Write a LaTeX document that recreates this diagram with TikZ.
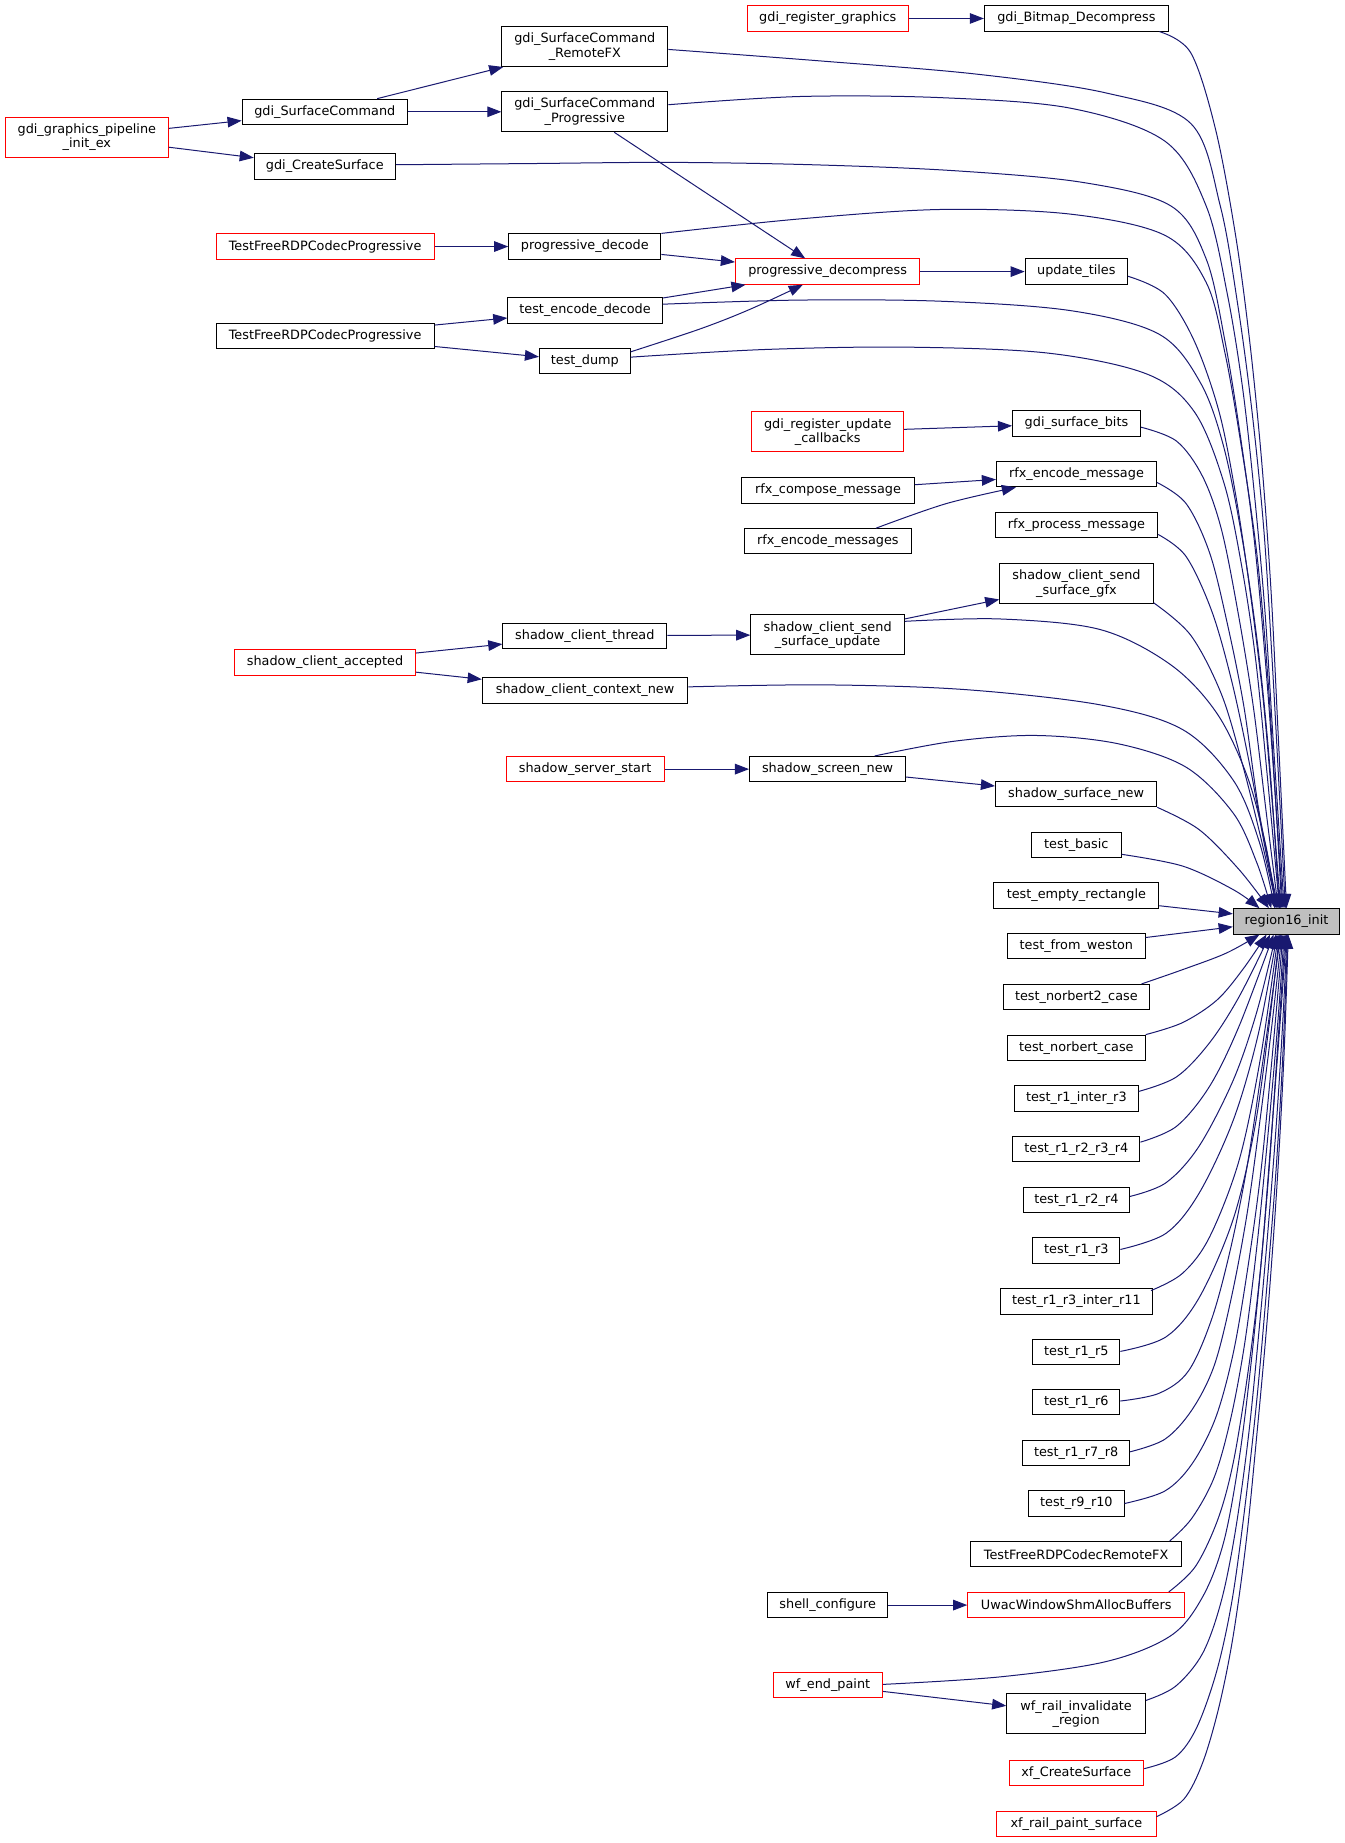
\documentclass[tikz,border=0pt]{standalone}
\usepackage{fontspec}
\setmainfont{DejaVu Sans}
\usetikzlibrary{arrows.meta,calc}
\definecolor{edgeblue}{HTML}{191970}
\definecolor{nodegray}{HTML}{BFBFBF}
\begin{document}
\begin{tikzpicture}[x=1pt,y=-1pt,
  box/.style={draw=black, line width=0.85pt, fill=white, inner xsep=1pt, inner ysep=0pt,
    minimum height=21.5pt, align=center, font=\fontsize{10.9}{12.2}\selectfont},
  redbox/.style={box, draw=red},
  two/.style={minimum height=34pt},
  edge/.style={draw=edgeblue, line width=0.85pt, -{Triangle[length=12pt,width=9pt]}},
  sm/.style={smooth, tension=0.55}]
\useasboundingbox (0,0) rectangle (1142.8,1566.2);
% ---------------- nodes
\node[redbox,two,minimum width=138.4pt] (gpi) at (73.8,116.5) {gdi\_graphics\_pipeline\\\_init\_ex};
\node[box,minimum width=140.4pt] (gsc) at (276,95) {gdi\_SurfaceCommand};
\node[box,minimum width=119.8pt] (gcs) at (276,141.5) {gdi\_CreateSurface};
\node[redbox,minimum width=185.4pt] (tfp1) at (276.3,209.5) {TestFreeRDPCodecProgressive};
\node[box,minimum width=185.4pt] (tfp2) at (276.3,285.3) {TestFreeRDPCodecProgressive};
\node[redbox,minimum width=154pt] (sca) at (276.2,562.9) {shadow\_client\_accepted};
\node[box,two,minimum width=141pt] (gscr) at (497,39.5) {gdi\_SurfaceCommand\\\_RemoteFX};
\node[box,two,minimum width=141pt] (gscp) at (497,95) {gdi\_SurfaceCommand\\\_Progressive};
\node[box,minimum width=129.3pt] (pdec) at (497,209.5) {progressive\_decode};
\node[box,minimum width=131.3pt] (ted) at (497.2,263.8) {test\_encode\_decode};
\node[box,minimum width=77pt] (tdump) at (497,307) {test\_dump};
\node[box,minimum width=139.3pt] (sct) at (497,540.2) {shadow\_client\_thread};
\node[box,minimum width=174.7pt] (sccn) at (497.2,586.7) {shadow\_client\_context\_new};
\node[redbox,minimum width=134.3pt] (sss) at (497.2,653.6) {shadow\_server\_start};
\node[redbox,minimum width=136.8pt] (grg) at (703.4,15.7) {gdi\_register\_graphics};
\node[redbox,minimum width=156.6pt] (pdc) at (703.3,230.8) {progressive\_decompress};
\node[redbox,two,minimum width=128.8pt] (gruc) at (703.4,367) {gdi\_register\_update\\\_callbacks};
\node[box,minimum width=146.5pt] (rcm) at (703.7,416.7) {rfx\_compose\_message};
\node[box,minimum width=142pt] (rems) at (703.5,460) {rfx\_encode\_messages};
\node[box,two,minimum width=130.5pt] (ssu) at (703.3,539.5) {shadow\_client\_send\\\_surface\_update};
\node[box,minimum width=132.6pt] (ssn) at (703.3,653.6) {shadow\_screen\_new};
\node[box,minimum width=102.2pt] (shc) at (703.4,1364) {shell\_configure};
\node[redbox,minimum width=93pt] (wep) at (703.5,1431.9) {wf\_end\_paint};
\node[box,minimum width=156.3pt] (gbd) at (914.7,15.7) {gdi\_Bitmap\_Decompress};
\node[box,minimum width=87pt] (ut) at (914.7,230.8) {update\_tiles};
\node[box,minimum width=108.7pt] (gsb) at (914.8,360) {gdi\_surface\_bits};
\node[box,minimum width=136pt] (rem) at (914.8,403) {rfx\_encode\_message};
\node[box,minimum width=138pt] (rpm) at (914.8,446.2) {rfx\_process\_message};
\node[box,two,minimum width=130.4pt] (ssg) at (914.8,495.9) {shadow\_client\_send\\\_surface\_gfx};
\node[box,minimum width=137pt] (ssfn) at (914.5,674.9) {shadow\_surface\_new};
\node[box,minimum width=76pt] (tb) at (914.7,718) {test\_basic};
\node[box,minimum width=140pt] (ter) at (914.7,761.1) {test\_empty\_rectangle};
\node[box,minimum width=117pt] (tfw) at (914.7,804.2) {test\_from\_weston};
\node[box,minimum width=124pt] (tn2) at (914.7,847.3) {test\_norbert2\_case};
\node[box,minimum width=117pt] (tn) at (914.7,890.4) {test\_norbert\_case};
\node[box,minimum width=105pt] (ti3) at (914.7,933.5) {test\_r1\_inter\_r3};
\node[box,minimum width=108pt] (t1234) at (914.7,976.6) {test\_r1\_r2\_r3\_r4};
\node[box,minimum width=90.5pt] (t124) at (914.7,1019.7) {test\_r1\_r2\_r4};
\node[box,minimum width=74pt] (t13) at (914.7,1062.8) {test\_r1\_r3};
\node[box,minimum width=129pt] (t13i11) at (914.7,1105.9) {test\_r1\_r3\_inter\_r11};
\node[box,minimum width=74pt] (t15) at (914.7,1149) {test\_r1\_r5};
\node[box,minimum width=73.8pt] (t16) at (914.7,1191.6) {test\_r1\_r6};
\node[box,minimum width=90.5pt] (t178) at (914.5,1234.8) {test\_r1\_r7\_r8};
\node[box,minimum width=81pt] (t910) at (914.7,1277.7) {test\_r9\_r10};
\node[box,minimum width=179pt] (tfrx) at (914.5,1320.8) {TestFreeRDPCodecRemoteFX};
\node[redbox,minimum width=184.4pt] (uwac) at (914.6,1364) {UwacWindowShmAllocBuffers};
\node[box,two,minimum width=117.9pt] (wfr) at (914.5,1456.5) {wf\_rail\_invalidate\\\_region};
\node[redbox,minimum width=114.5pt] (xcs) at (914.7,1506.7) {xf\_CreateSurface};
\node[redbox,minimum width=135.4pt] (xrps) at (914.7,1549.8) {xf\_rail\_paint\_surface};
\node[box,fill=nodegray,minimum width=90.5pt] (r) at (1093.3,783) {region16\_init};
% ---------------- straight edges
\draw[edge] (grg.east) -- (gbd.west);
\draw[edge] (gpi) -- (gsc);
\draw[edge] (gpi) -- (gcs);
\draw[edge] (gsc) -- (gscr);
\draw[edge] (gsc.east) -- (gscp.west);
\draw[edge] ([xshift=25pt]gscp.south) -- ([xshift=-19pt]pdc.north);
\draw[edge] (tfp1.east) -- (pdec.west);
\draw[edge] (pdec) -- (pdc);
\draw[edge] (ted) -- (pdc);
\draw[edge] plot[sm] coordinates {([yshift=8pt]tdump.east) (595,279.5) (637,263) ([xshift=-21pt]pdc.south)};
\draw[edge] (pdc.east) -- (ut.west);
\draw[edge] (tfp2) -- (ted);
\draw[edge] (tfp2) -- (tdump);
\draw[edge] (gruc) -- (gsb);
\draw[edge] (rcm) -- (rem);
\draw[edge] plot[sm] coordinates {([xshift=41pt]rems.north) (804,428) ([xshift=17pt]rem.south west)};
\draw[edge] (ssu) -- (ssg);
\draw[edge] (sct) -- (ssu);
\draw[edge] (sca) -- (sct);
\draw[edge] (sca) -- (sccn);
\draw[edge] (sss) -- (ssn);
\draw[edge] (ssn) -- (ssfn);
\draw[edge] (shc) -- (uwac);
\draw[edge] (wep) -- (wfr);
% ---------------- edges into region16_init (from above)
\draw[edge] plot[sm] coordinates {([xshift=-8pt]gbd.south east) (1012,45) (1033,110) (1050,200) (1062,290) (1072,390) (1080,500) (1086,620) (r.north)};
\draw[edge] plot[sm] coordinates {([yshift=-2.5pt]gscr.east) (700,52) (830,63) (940,79) (1012,105) (1037,175) (1052,260) (1064,350) (1074,450) (1081,560) (1087,670) ([xshift=-1pt]r.north)};
\draw[edge] plot[sm] coordinates {([yshift=6pt]gscp.east) (680,82) (800,83) (910,92) (990,120) (1025,175) (1043,250) (1056,330) (1066,420) (1075,520) (1082,630) ([xshift=-2pt]r.north)};
\draw[edge] plot[sm] coordinates {([yshift=1.5pt]gcs.east) (450,139) (570,138) (690,140) (810,145) (920,155) (995,175) (1025,220) (1041,290) (1054,370) (1066,460) (1076,570) (1084,680) ([xshift=-3pt]r.north)};
\draw[edge] plot[sm] coordinates {(pdec.north east) (680,186) (800,178) (910,182) (990,200) (1025,240) (1041,300) (1055,380) (1068,470) (1077,570) (1084,680) ([xshift=-4pt]r.north)};
\draw[edge] plot[sm] coordinates {([yshift=-4pt]ut.east) (990,250) (1015,290) (1036,350) (1050,420) (1062,500) (1073,590) (1081,680) ([xshift=-5pt]r.north)};
\draw[edge] plot[sm] coordinates {([yshift=5.3pt]ted.east) (680,255) (800,256) (910,264) (985,284) (1020,325) (1040,380) (1056,460) (1069,550) (1079,650) ([xshift=-6pt]r.north)};
\draw[edge] plot[sm] coordinates {([yshift=3.5pt]tdump.east) (650,297) (770,295) (890,300) (975,318) (1015,350) (1040,410) (1055,480) (1067,560) (1077,660) ([xshift=-6pt]r.north)};
\draw[edge] plot[sm] coordinates {([yshift=-3pt]gsb.east) (1000,375) (1022,405) (1038,450) (1052,520) (1065,600) (1076,690) ([xshift=-7pt]r.north)};
\draw[edge] plot[sm] coordinates {([yshift=-7pt]rem.east) (1008,428) (1028,470) (1043,530) (1057,600) (1070,690) ([xshift=-7pt]r.north)};
\draw[edge] plot[sm] coordinates {([yshift=-8pt]rpm.east) (1008,473) (1030,520) (1047,580) (1062,650) (1074,715) ([xshift=-8pt]r.north)};
\draw[edge] plot[sm] coordinates {([yshift=1pt]ssg.south east) (1012,540) (1038,590) (1056,650) (1071,710) ([xshift=-8pt]r.north)};
\draw[edge] plot[sm] coordinates {([yshift=11.5pt]ssu.east) (850,526) (935,535) (995,565) (1034,606) (1060,660) (1076,720) ([xshift=-9pt]r.north)};
\draw[edge] plot[sm] coordinates {([yshift=3pt]sccn.east) (700,582) (820,586) (935,599) (1005,620) (1048,663) (1070,715) ([xshift=-10pt]r.north)};
\draw[edge] plot[sm] coordinates {([xshift=40pt]ssn.north) (810,630) (880,625) (950,632) (1008,652) (1048,691) (1068,733) ([xshift=-13pt]r.north)};
\draw[edge] plot[sm] coordinates {(ssfn.south east) (1019,705) (1053,739) ([xshift=-15pt]r.north)};
\draw[edge] plot[sm] coordinates {([yshift=-8pt]tb.east) (1005,736) (1048,756) ([xshift=-23pt]r.north)};
\draw[edge] ([yshift=-8.6pt]ter.east) -- ([yshift=6.4pt]r.west);
\draw[edge] ([yshift=7.5pt]tfw.east) -- ([yshift=-4.6pt]r.west);
% ---------------- edges into region16_init (from below)
\draw[edge] plot[sm] coordinates {([xshift=-7pt]tn2.north east) (1005,824) (1042,810) ([xshift=-23pt]r.south)};
\draw[edge] plot[sm] coordinates {(tn.north east) (1005,869) (1034,850) (1056,824) ([xshift=-17pt]r.south)};
\draw[edge] plot[sm] coordinates {([yshift=6pt]ti3.east) (1000,915) (1028,886) (1053,847) ([xshift=-14pt]r.south)};
\draw[edge] plot[sm] coordinates {([yshift=6pt]t1234.east) (1000,957) (1028,923) (1053,872) ([xshift=-11pt]r.south)};
\draw[edge] plot[sm] coordinates {([yshift=3pt]t124.east) (991,1005) (1019,974) (1048,918) (1068,860) ([xshift=-9pt]r.south)};
\draw[edge] plot[sm] coordinates {([yshift=1pt]t13.east) (991,1048) (1019,1014) (1048,952) (1069,880) ([xshift=-8pt]r.south)};
\draw[edge] plot[sm] coordinates {([xshift=-1.5pt,yshift=-2pt]t13i11.north east) (1005,1082) (1028,1051) (1053,986) (1071,900) ([xshift=-7pt]r.south)};
\draw[edge] plot[sm] coordinates {([yshift=0.6pt]t15.east) (991,1136) (1019.5,1102) (1048,1036) (1066,960) (1078,875) ([xshift=-6pt]r.south)};
\draw[edge] plot[sm] coordinates {([yshift=1pt]t16.east) (985,1184) (1010,1165) (1030,1120) (1046,1060) (1060,990) (1072,910) (1082,840) ([xshift=-5pt]r.south)};
\draw[edge] plot[sm] coordinates {([yshift=1pt]t178.east) (990,1223) (1013,1198) (1032,1160) (1047,1100) (1060,1030) (1071,950) (1081,870) ([xshift=-4pt]r.south)};
\draw[edge] plot[sm] coordinates {(t910.east) (990,1267) (1013,1244) (1033,1205) (1048,1150) (1060,1080) (1071,1000) (1080,910) ([xshift=-3pt]r.south)};
\draw[edge] plot[sm] coordinates {([xshift=-10.5pt]tfrx.north east) (1013,1290) (1032,1255) (1046,1205) (1058,1140) (1068,1060) (1077,970) (1085,880) ([xshift=-2pt]r.south)};
\draw[edge] plot[sm] coordinates {([xshift=-14pt]uwac.north east) (1016,1331) (1035,1291) (1048,1243) (1060,1170) (1070,1090) (1078,1000) (1085,900) ([xshift=-1pt]r.south)};
\draw[edge] plot[sm] coordinates {([yshift=0.5pt]wep.east) (850,1425) (940,1412) (995,1390) (1022,1357) (1040,1310) (1053,1240) (1063,1160) (1072,1070) (1080,970) (1087,880) (r.south)};
\draw[edge] plot[sm] coordinates {([yshift=11.5pt]wfr.east) (999,1433) (1022,1405) (1038,1360) (1050,1300) (1061,1220) (1070,1130) (1078,1040) (1085,950) (1090,870) ([xshift=0.5pt]r.south)};
\draw[edge] plot[sm] coordinates {([yshift=3.7pt]xcs.east) (999,1493) (1017,1468) (1034,1420) (1047,1360) (1058,1280) (1068,1190) (1076,1100) (1084,1000) (1090,900) ([xshift=1pt]r.south)};
\draw[edge] plot[sm] coordinates {([yshift=6pt]xrps.east) (1006,1529) (1022,1498) (1036,1450) (1048,1390) (1059,1310) (1068,1220) (1077,1120) (1085,1010) (1091,900) ([xshift=1.5pt]r.south)};
\end{tikzpicture}
\end{document}
